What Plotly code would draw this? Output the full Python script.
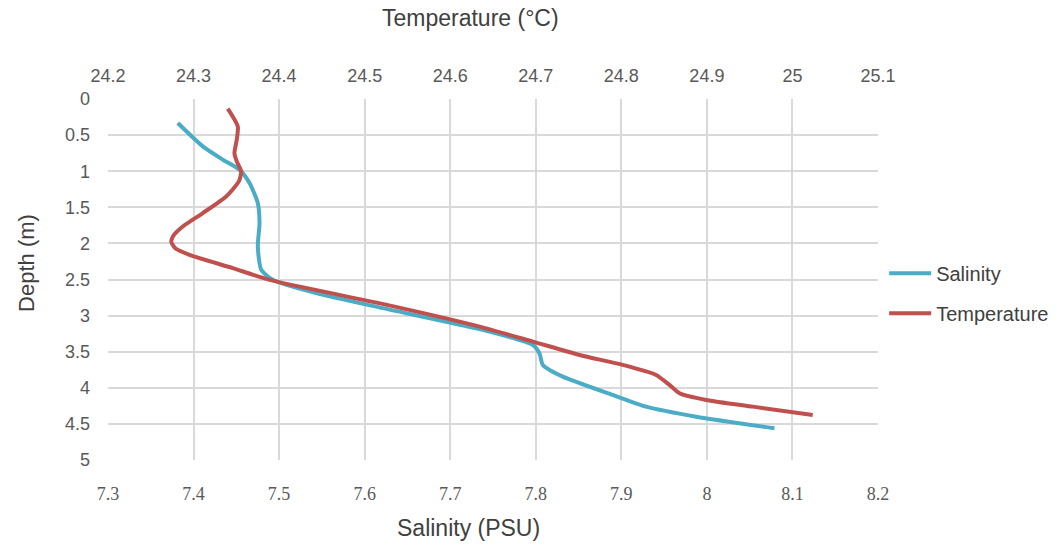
import plotly.graph_objects as go

# Salinity profile (PSU) vs depth (m)
sal_depth = [0.333, 0.657, 0.841, 0.98, 1.164, 1.442, 1.719, 2.043, 2.366, 2.505, 2.689, 2.897,
             3.188, 3.406, 3.521, 3.683, 3.845, 4.099, 4.261, 4.40, 4.561]
salinity = [7.3816, 7.4108, 7.4342, 7.4537, 7.4654, 7.4751, 7.4771, 7.4751, 7.4791, 7.4926, 7.5433, 7.6212,
            7.7342, 7.7965, 7.8043, 7.8082, 7.8316, 7.8900, 7.9290, 7.9875, 8.0790]

# Temperature profile (°C) vs depth (m)
temp_depth = [0.134, 0.38, 0.564, 0.749, 0.865, 1.004, 1.142, 1.350, 1.58, 1.766, 1.90, 1.98, 2.07, 2.158,
              2.343, 2.505, 2.838, 3.152, 3.36, 3.545, 3.683, 3.822, 3.96, 4.075, 4.168, 4.261, 4.376]
temperature = [24.340, 24.3517, 24.3505, 24.3478, 24.3505, 24.3557, 24.3529, 24.3381, 24.3108, 24.2874,
               24.2760, 24.2740, 24.2790, 24.2953, 24.3459, 24.3888, 24.5208, 24.6342, 24.6965, 24.7511,
               24.8017, 24.8407, 24.8563, 24.868, 24.8991, 24.9536, 25.0237]

sal_ticks = [7.3, 7.4, 7.5, 7.6, 7.7, 7.8, 7.9, 8.0, 8.1, 8.2]
sal_labels = ["7.3", "7.4", "7.5", "7.6", "7.7", "7.8", "7.9", "8", "8.1", "8.2"]
temp_ticks = [24.2, 24.3, 24.4, 24.5, 24.6, 24.7, 24.8, 24.9, 25.0, 25.1]
temp_labels = ["24.2", "24.3", "24.4", "24.5", "24.6", "24.7", "24.8", "24.9", "25", "25.1"]
depth_ticks = [0, 0.5, 1, 1.5, 2, 2.5, 3, 3.5, 4, 4.5, 5]
depth_labels = ["0", "0.5", "1", "1.5", "2", "2.5", "3", "3.5", "4", "4.5", "5"]

grid = "#d9d9d9"
tick_color = "#595959"
title_color = "#404040"
sans = "Liberation Sans, Arial, sans-serif"
serif = "Liberation Serif, Times New Roman, serif"

fig = go.Figure()
fig.add_trace(go.Scatter(
    x=salinity, y=sal_depth, name="Salinity", mode="lines", legendgroup="s",
    line=dict(color="#4BACC6", width=4, shape="spline", smoothing=0.6),
    xaxis="x", yaxis="y"))
fig.add_trace(go.Scatter(
    x=temperature, y=temp_depth, name="Temperature", mode="lines", legendgroup="t",
    line=dict(color="#C0504D", width=4, shape="spline", smoothing=0.6),
    xaxis="x2", yaxis="y"))

fig.update_layout(
    width=1057, height=549,
    margin=dict(l=108, r=179, t=99, b=89, autoexpand=False),
    paper_bgcolor="white", plot_bgcolor="white",
    font=dict(family=sans, color=tick_color),
    xaxis=dict(range=[7.3, 8.2], tickvals=sal_ticks, ticktext=sal_labels,
               showgrid=True, gridcolor=grid, gridwidth=2, zeroline=False,
               showline=False, ticks="", ticklabelstandoff=21, automargin=False,
               tickfont=dict(family=serif, size=18, color=tick_color)),
    xaxis2=dict(range=[24.2, 25.1], tickvals=temp_ticks, ticktext=temp_labels,
                overlaying="x", side="top", showgrid=False, zeroline=False,
                showline=False, ticks="", ticklabelstandoff=12, automargin=False,
                tickfont=dict(family=sans, size=18, color=tick_color)),
    yaxis=dict(range=[5, 0], tickvals=depth_ticks, ticktext=depth_labels,
               showgrid=True, gridcolor=grid, gridwidth=2, zeroline=False,
               showline=False, ticks="", ticklabelstandoff=17, automargin=False,
               tickfont=dict(family=sans, size=18, color=tick_color)),
    legend=dict(x=1.008, y=0.4616, xanchor="left", yanchor="middle",
                font=dict(family=sans, size=20, color=title_color),
                bgcolor="rgba(0,0,0,0)", tracegroupgap=11, itemwidth=42),
    showlegend=True,
)

fig.add_annotation(text="Temperature (°C)", xref="paper", yref="paper", x=0.4708, y=1, yshift=81,
                   showarrow=False, xanchor="center", yanchor="middle",
                   font=dict(family=sans, size=23, color=title_color))
fig.add_annotation(text="Salinity (PSU)", xref="paper", yref="paper", x=0.468, y=0, yshift=-68,
                   showarrow=False, xanchor="center", yanchor="middle",
                   font=dict(family=sans, size=23, color=title_color))
fig.add_annotation(text="Depth (m)", xref="paper", yref="paper", x=0, xshift=-81, y=0.546,
                   showarrow=False, xanchor="center", yanchor="middle", textangle=-90,
                   font=dict(family=sans, size=22, color=title_color))

fig.write_html("out.html", config={"displayModeBar": False},
               post_script="document.body.style.margin='0';document.body.style.padding='0';")
